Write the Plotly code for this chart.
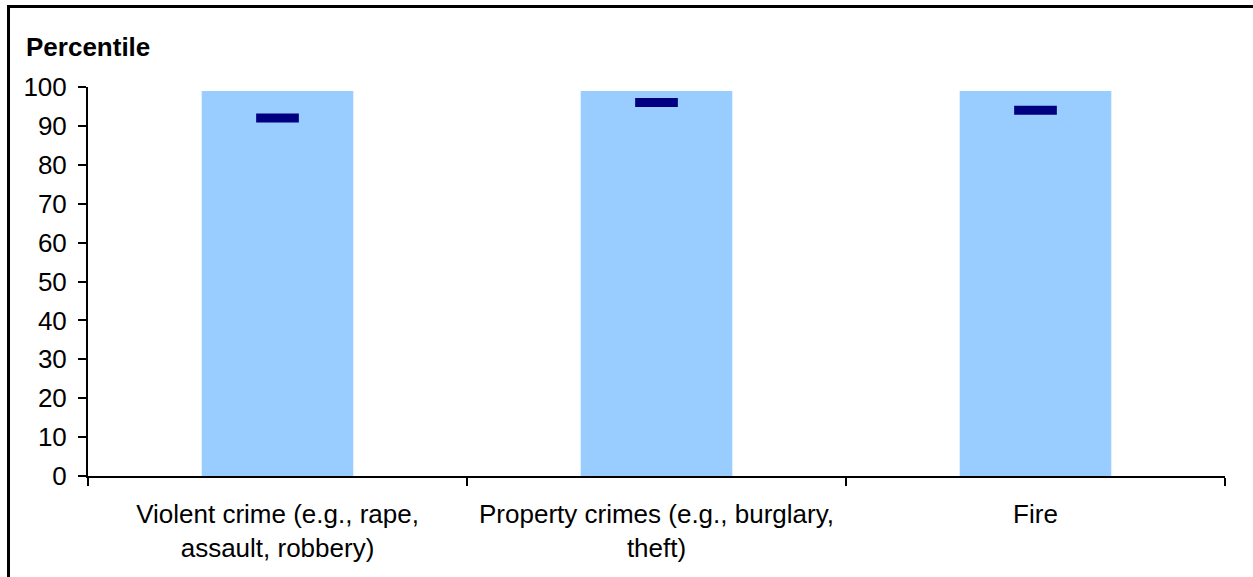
import plotly.graph_objects as go

categories = ["Violent crime (e.g., rape,<br>assault, robbery)",
              "Property crimes (e.g., burglary,<br>theft)",
              "Fire"]
bar_values = [99, 99, 99]
marker_values = [92, 96, 94]
y_ticks = [0, 10, 20, 30, 40, 50, 60, 70, 80, 90, 100]

W, H = 1253, 577
L, R, T, B = 88, 1225, 87, 476
pw, ph = R - L, B - T

FONT = "Liberation Sans, Arial, sans-serif"
FS = 26

fig = go.Figure()
fig.add_trace(go.Bar(x=categories, y=bar_values, marker=dict(color="#99CCFF", line=dict(width=0)),
                     hoverinfo="skip", showlegend=False))
fig.add_trace(go.Scatter(x=categories, y=marker_values, mode="markers",
                         marker=dict(symbol="line-ew", size=30.5,
                                     line=dict(width=9, color="#000080")),
                         showlegend=False))

def px_x(p):
    return (p - L) / pw

def px_y(p):
    return (B - p) / ph

fig.add_shape(type="rect", xref="paper", yref="paper",
              x0=px_x(8.5), x1=px_x(1300), y0=px_y(6.5), y1=px_y(650),
              line=dict(color="black", width=3), fillcolor="rgba(0,0,0,0)", layer="above")

fig.add_annotation(text="<b>Percentile</b>", xref="paper", yref="paper",
                   x=px_x(24), y=px_y(47), xanchor="left", yanchor="middle",
                   showarrow=False, font=dict(family=FONT, size=FS, color="black"))

fig.update_layout(
    width=W, height=H,
    margin=dict(l=L, r=W - R, t=T, b=H - B, pad=0),
    paper_bgcolor="white", plot_bgcolor="white",
    bargap=0.6,
    font=dict(family=FONT, size=FS, color="black"),
    xaxis=dict(showline=True, linecolor="black", linewidth=2,
               ticks="outside", ticklen=8, tickwidth=2, tickcolor="black",
               tickson="boundaries", showgrid=False, zeroline=False,
               ticklabelstandoff=14,
               tickfont=dict(family=FONT, size=FS, color="black")),
    yaxis=dict(range=[0, 100], tickvals=y_ticks, showline=True, linecolor="black", linewidth=2,
               ticks="outside", ticklen=8, tickwidth=2, tickcolor="black",
               showgrid=False, zeroline=False,
               ticklabelstandoff=6,
               tickfont=dict(family=FONT, size=FS, color="black")),
)

fig.write_html("out.html", config={"displayModeBar": False},
               post_script="document.body.style.margin='0';document.body.style.overflow='hidden';")
